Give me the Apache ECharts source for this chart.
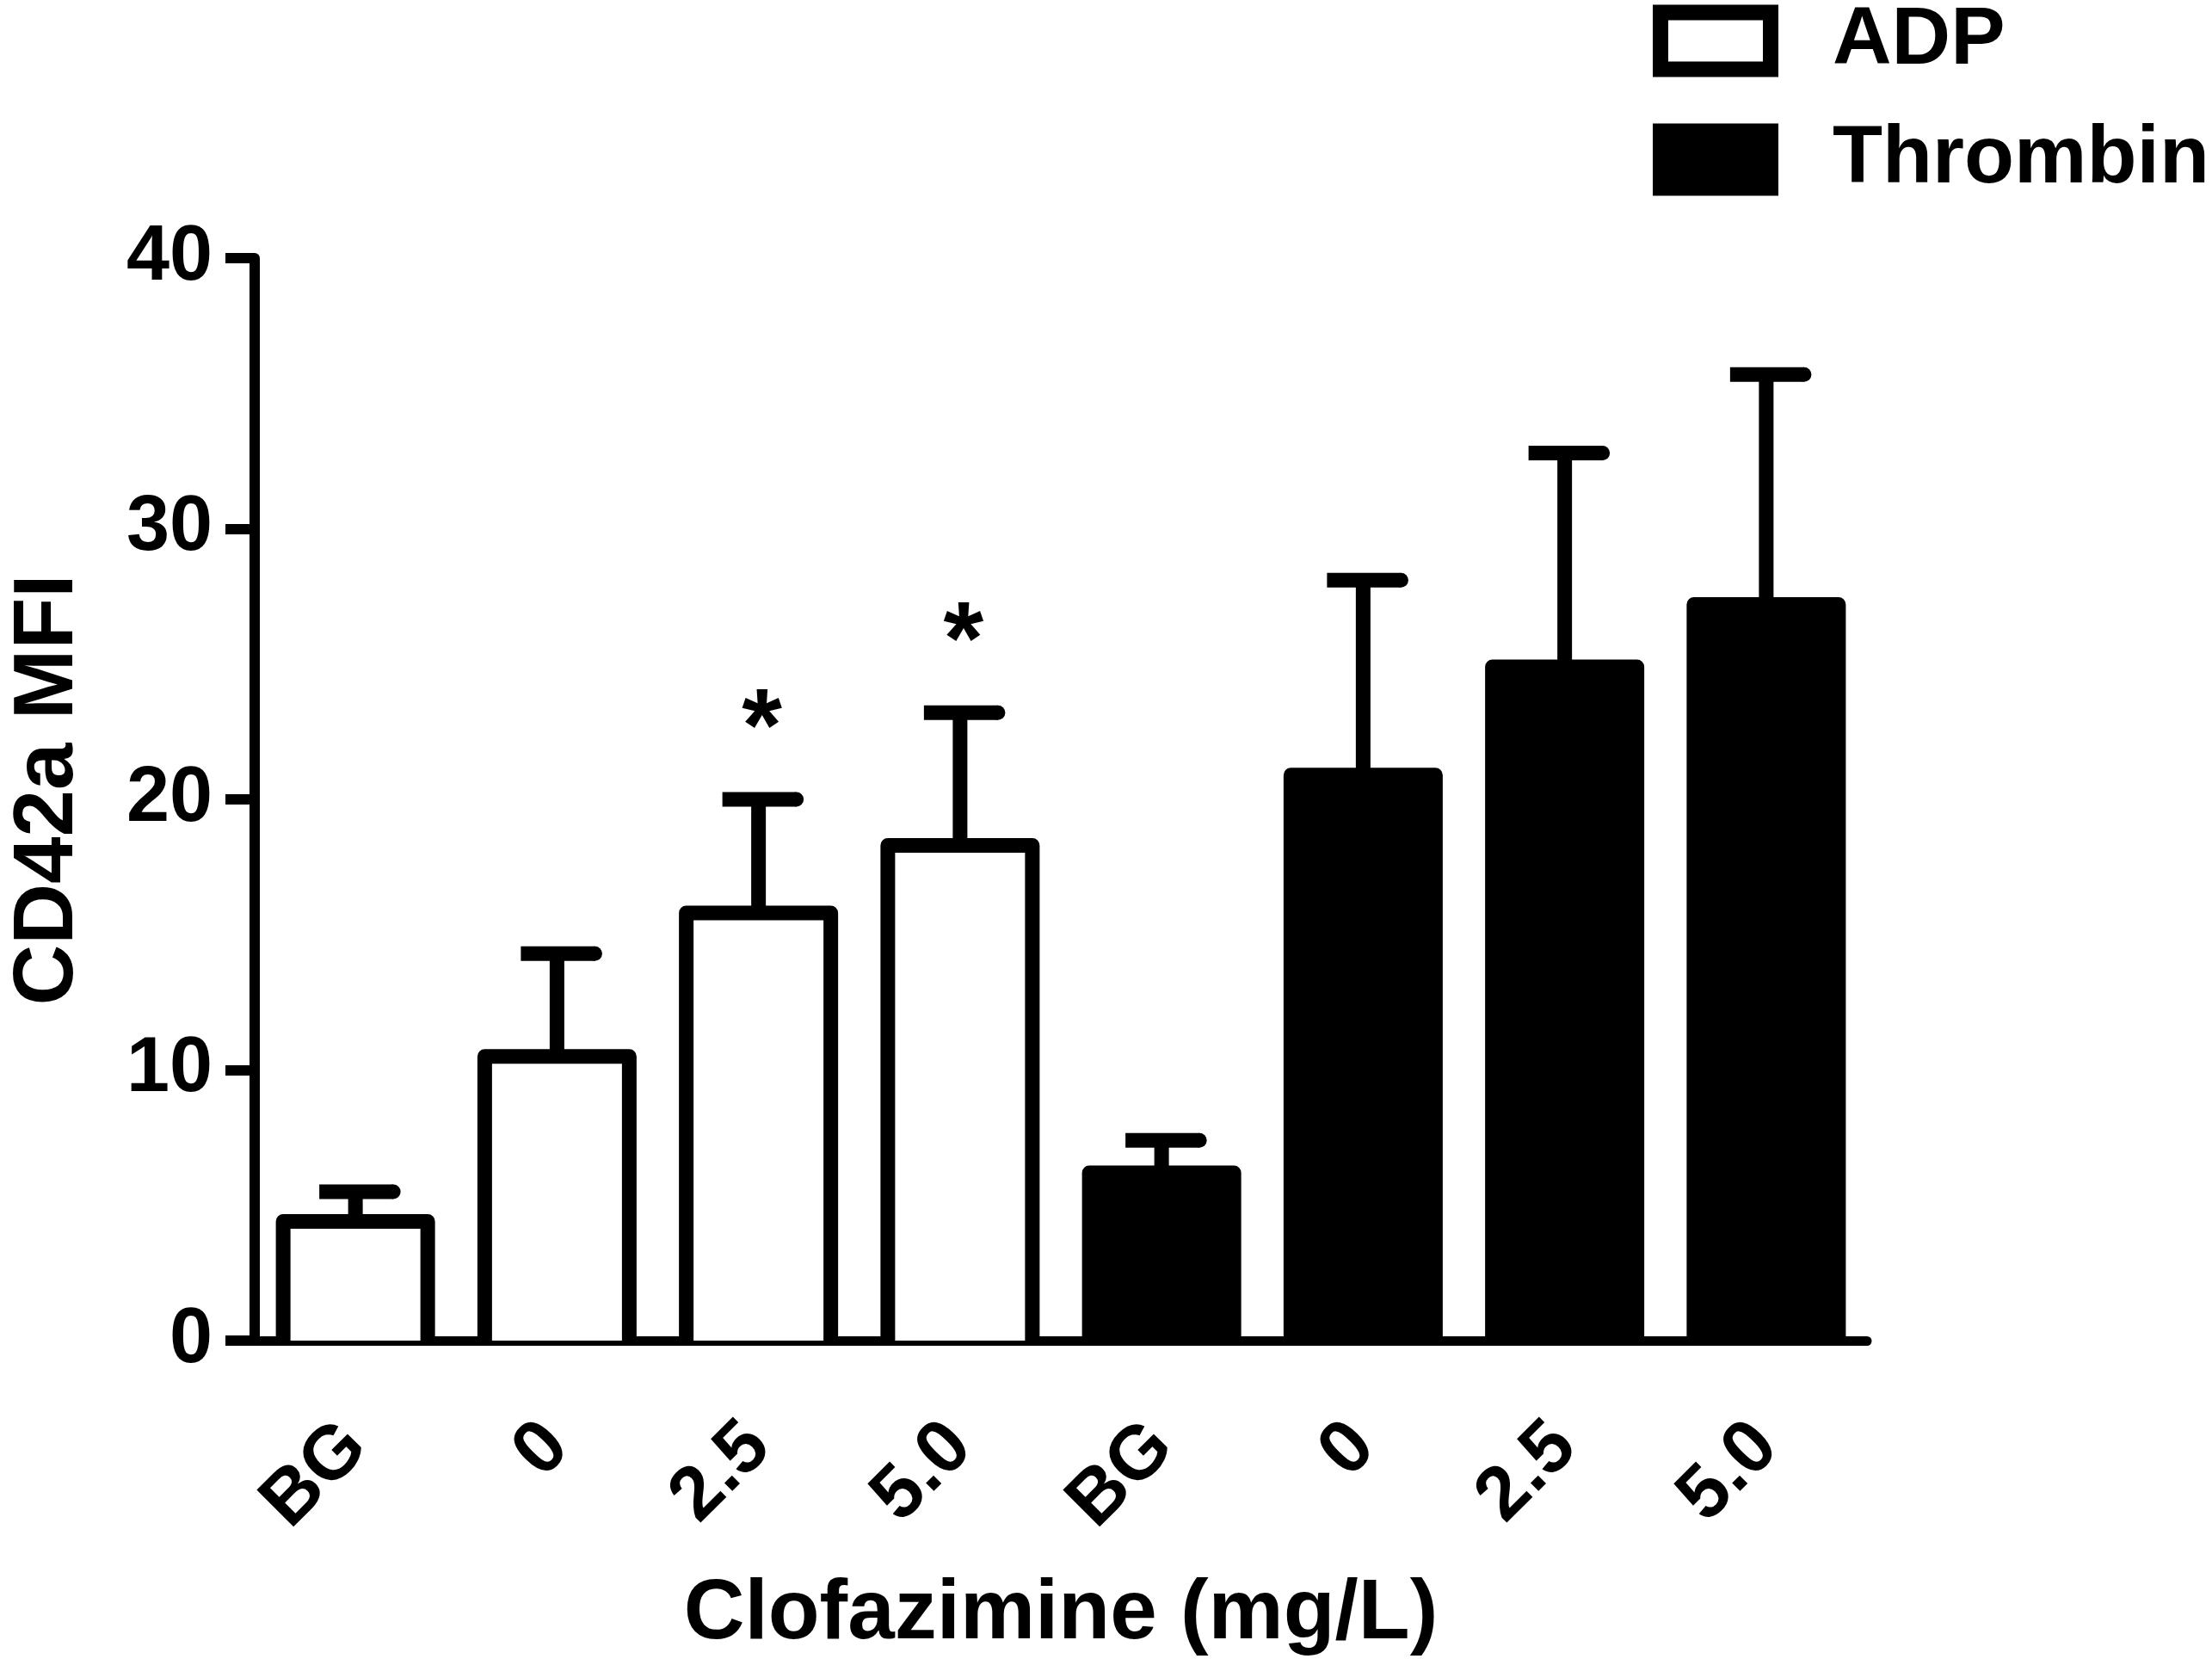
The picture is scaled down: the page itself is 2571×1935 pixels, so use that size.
<!DOCTYPE html>
<html>
<head>
<meta charset="utf-8">
<script src="https://cdn.jsdelivr.net/npm/echarts@6/dist/echarts.min.js"></script>
<style>
  html, body { margin: 0; padding: 0; background: #fff; }
  #chart { width: 2571px; height: 1935px; }
</style>
</head>
<body>
<div id="chart"></div>
<script>
// 数据
const categories = ['BG', '0', '2.5', '5.0', 'BG', '0', '2.5', '5.0'];
const adpMean = [4.4, 10.5, 15.8, 18.3, '-', '-', '-', '-'];
const thrombinMean = ['-', '-', '-', '-', 6.2, 20.9, 24.9, 27.2];
const errUpper = [1.1, 3.8, 4.2, 4.9, 1.2, 7.2, 7.9, 8.5];
const sigMarks = ['', '', '*', '*', '', '', '', ''];

const FONT = '"Liberation Sans", Arial, sans-serif';
const LW = 17;
const chart = echarts.init(document.getElementById('chart'));

// 柱子：[索引, 均值]
const adpData = categories.map((c, i) => [i, adpMean[i]]);
const thrombinData = categories.map((c, i) => [i, thrombinMean[i]]);
// 误差线：[索引, 均值, 误差]
const errData = categories.map((c, i) => {
    const m = adpMean[i] !== '-' ? adpMean[i] : thrombinMean[i];
    return [i, m, errUpper[i]];
});

// 画开口柱子（底边由坐标轴代替）
function barRenderer(fill) {
    return function(params, api) {
        const v = api.value(1);
        if (isNaN(v)) return;
        const top = api.coord([api.value(0), v]);
        const base = api.coord([api.value(0), 0]);
        const half = (185 - LW) / 2;
        return {
            type: 'group',
            children: [
                { type: 'rect', shape: { x: top[0] - half, y: top[1], width: half * 2, height: base[1] - top[1] },
                  style: { fill: fill } },
                { type: 'polyline',
                  shape: { points: [[top[0] - half, base[1]], [top[0] - half, top[1]], [top[0] + half, top[1]], [top[0] + half, base[1]]] },
                  style: { stroke: '#000', lineWidth: LW, lineJoin: 'round', fill: null } }
            ]
        };
    };
}

function renderErr(params, api) {
    const i = api.value(0);
    const m = api.value(1);
    const e = api.value(2);
    const base = api.coord([i, m]);
    const top = api.coord([i, m + e]);
    const children = [
        { type: 'line', shape: { x1: base[0], y1: base[1], x2: top[0], y2: top[1] },
          style: { stroke: '#000', lineWidth: LW } },
        { type: 'line', shape: { x1: top[0] - 42, y1: top[1], x2: top[0] + 44, y2: top[1] },
          style: { stroke: '#000', lineWidth: LW, lineCap: 'butt' } },
        { type: 'circle', shape: { cx: top[0] + 44, cy: top[1], r: LW / 2 },
          style: { fill: '#000' } }
    ];
    if (sigMarks[i]) {
        children.push({
            type: 'text',
            style: {
                text: sigMarks[i], x: top[0] + 4, y: top[1] - 78,
                fill: '#000', font: 'bold 120px ' + FONT,
                textAlign: 'center', textVerticalAlign: 'middle'
            }
        });
    }
    return { type: 'group', children: children };
}

const option = {
    backgroundColor: '#fff',
    animation: false,
    grid: { left: 280, right: 401, top: 300, bottom: 377, containLabel: false },
    legend: {
        orient: 'vertical',
        left: 1921,
        top: 0,
        padding: 0,
        itemWidth: 128,
        itemHeight: 66,
        itemGap: 43,
        icon: 'rect',
        selectedMode: false,
        textStyle: { fontFamily: FONT, fontWeight: 'bold', fontSize: 95, color: '#000', padding: [0, 0, 0, 67] },
        data: [
            { name: 'ADP', icon: 'rect', itemStyle: { color: '#fff', borderColor: '#000', borderWidth: 18 } },
            { name: 'Thrombin', icon: 'rect', itemStyle: { color: '#000', borderColor: '#000', borderWidth: 18 } }
        ]
    },
    xAxis: {
        type: 'category',
        data: categories,
        name: 'Clofazimine (mg/L)',
        nameLocation: 'middle',
        nameGap: 270,
        nameTextStyle: { fontFamily: FONT, fontWeight: 'bold', fontSize: 98, color: '#000' },
        axisLine: { lineStyle: { color: '#000', width: 11 } },
        axisTick: { alignWithLabel: true, length: 34, lineStyle: { color: '#000', width: 12 } },
        axisLabel: { rotate: 45, margin: 110, interval: 0, fontFamily: FONT, fontWeight: 'bold', fontSize: 88, color: '#000' }
    },
    yAxis: {
        type: 'value',
        min: 0, max: 40, interval: 10,
        name: 'CD42a MFI',
        nameLocation: 'middle',
        nameGap: 190,
        nameTextStyle: { fontFamily: FONT, fontWeight: 'bold', fontSize: 98, color: '#000', padding: [0, 0, 0, 22] },
        axisLine: { show: true, lineStyle: { color: '#000', width: 12 } },
        axisTick: { show: true, length: 34, lineStyle: { color: '#000', width: 12 } },
        axisLabel: { margin: 49, fontFamily: FONT, fontWeight: 'bold', fontSize: 90, color: '#000' },
        splitLine: { show: false }
    },
    series: [
        {
            name: 'ADP', type: 'custom', data: adpData, renderItem: barRenderer('#fff'),
            encode: { x: 0, y: 1 }, itemStyle: { color: '#fff', borderColor: '#000', borderWidth: 18 }, silent: true
        },
        {
            name: 'Thrombin', type: 'custom', data: thrombinData, renderItem: barRenderer('#000'),
            encode: { x: 0, y: 1 }, itemStyle: { color: '#000', borderColor: '#000', borderWidth: 18 }, silent: true
        },
        {
            name: 'err', type: 'custom', data: errData, renderItem: renderErr,
            encode: { x: 0, y: 1 }, z: 5, silent: true
        }
    ]
};
chart.setOption(option);
</script>
</body>
</html>
